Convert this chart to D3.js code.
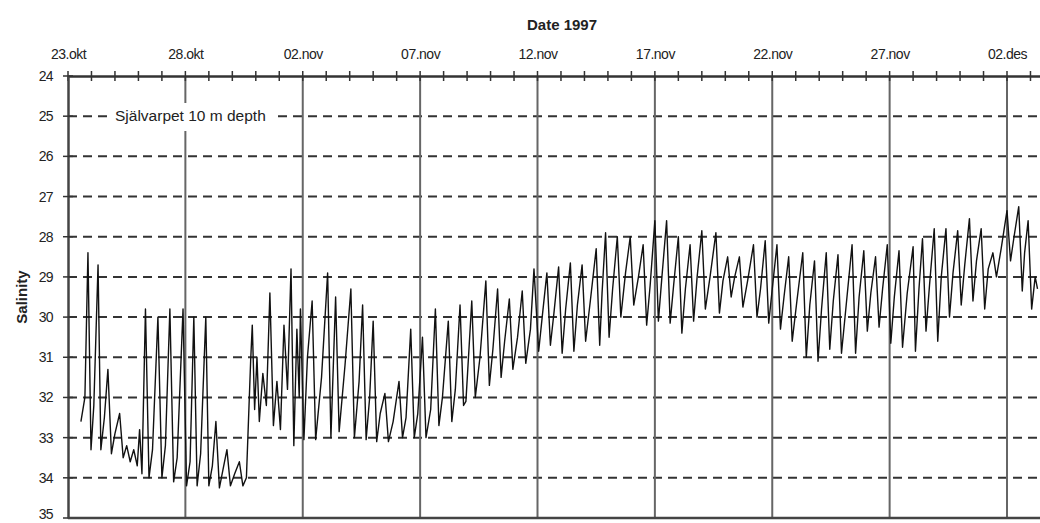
<!DOCTYPE html>
<html>
<head>
<meta charset="utf-8">
<script src="https://cdn.jsdelivr.net/npm/d3@7"></script>
<style>
  body { margin: 0; background: #fff; }
  text { font-family: "Liberation Sans", Arial, Helvetica, sans-serif; fill: #222; }
</style>
</head>
<body>
<div id="chart"></div>
<script>
// Salinity record, Självarpet 10 m depth, autumn 1997
// time as days after 23.okt 00:00
const sampleDay = [
  0.55, 0.72, 0.85, 0.98, 1.1, 1.28, 1.4, 1.55, 1.7, 1.85, 2.0, 2.2, 2.35, 2.5, 2.65, 2.8, 2.95, 3.05, 3.15, 3.3,
  3.45, 3.6, 3.83, 4.0, 4.15, 4.34, 4.5, 4.65, 4.9, 5.05, 5.2, 5.36, 5.5, 5.65, 5.87, 6.0, 6.15, 6.3, 6.45, 6.6,
  6.77, 6.92, 7.1, 7.3, 7.45, 7.6, 7.78, 7.85, 7.95, 8.05, 8.15, 8.3, 8.45, 8.6, 8.75, 8.9, 9.05, 9.2, 9.35, 9.5,
  9.62, 9.75, 9.85, 9.9, 10.05, 10.2, 10.4, 10.55, 10.8, 11.06, 11.2, 11.4, 11.55, 11.8, 12.05, 12.2, 12.4, 12.55, 12.7, 12.85,
  13.0, 13.15, 13.3, 13.5, 13.65, 13.85, 14.1, 14.25, 14.4, 14.6, 14.75, 14.9, 15.1, 15.25, 15.45, 15.65, 15.8, 15.95, 16.2, 16.35,
  16.5, 16.7, 16.85, 16.95, 17.2, 17.35, 17.55, 17.8, 17.95, 18.1, 18.3, 18.45, 18.6, 18.8, 18.95, 19.15, 19.35, 19.5, 19.7, 19.85,
  20.05, 20.2, 20.4, 20.55, 20.7, 20.9, 21.05, 21.2, 21.4, 21.55, 21.7, 21.9, 22.05, 22.25, 22.5, 22.65, 22.75, 22.9, 23.05, 23.2,
  23.4, 23.55, 23.75, 23.95, 24.1, 24.3, 24.5, 24.65, 24.8, 25.0, 25.15, 25.3, 25.5, 25.65, 25.8, 26.0, 26.15, 26.3, 26.5, 26.65,
  26.8, 27.0, 27.15, 27.35, 27.6, 27.75, 27.9, 28.1, 28.25, 28.4, 28.6, 28.75, 28.95, 29.2, 29.35, 29.5, 29.7, 29.85, 30.0, 30.2,
  30.35, 30.5, 30.7, 30.85, 31.05, 31.3, 31.45, 31.6, 31.8, 31.95, 32.1, 32.3, 32.45, 32.6, 32.8, 32.95, 33.15, 33.4, 33.55, 33.7,
  33.9, 34.05, 34.2, 34.4, 34.55, 34.7, 34.9, 35.05, 35.2, 35.4, 35.55, 35.75, 36.0, 36.1, 36.25, 36.4, 36.55, 36.7, 36.9, 37.05,
  37.2, 37.4, 37.55, 37.7, 37.9, 38.05, 38.2, 38.4, 38.55, 38.7, 38.9, 39.05, 39.2, 39.4, 39.55, 39.75, 40.0, 40.15, 40.3, 40.5,
  40.65, 40.75, 40.9, 41.05, 41.2, 41.3
];
const salinity = [
  32.6, 32.0, 28.4, 33.3, 32.2, 28.7, 33.3, 32.5, 31.3, 33.4, 32.9, 32.4, 33.5, 33.2, 33.6, 33.3, 33.7, 32.8, 33.9, 29.8,
  34.0, 33.3, 30.0, 34.0, 33.2, 29.8, 34.1, 33.5, 29.8, 34.2, 33.6, 30.0, 34.2, 33.4, 30.0, 34.2, 33.7, 32.6, 34.25, 33.8,
  33.3, 34.2, 33.9, 33.6, 34.2, 34.0, 31.1, 30.2, 32.3, 31.0, 32.6, 31.4, 32.2, 29.4, 32.7, 31.6, 32.8, 30.2, 31.8, 28.8,
  33.2, 30.3, 32.0, 29.8, 33.05, 31.0, 29.6, 33.05, 31.5, 28.9, 33.0, 29.5, 32.85, 31.2, 29.3, 33.0, 31.6, 29.7, 33.05, 32.0,
  30.1, 33.1, 32.4, 31.9, 33.1, 32.6, 31.6, 33.0, 32.5, 30.3, 33.0, 32.4, 30.5, 33.0, 32.3, 29.8, 32.7, 32.0, 30.1, 32.6,
  31.8, 29.7, 32.2, 32.1, 29.6, 32.0, 31.0, 29.1, 31.7, 30.8, 29.3, 31.5, 30.6, 29.55, 31.3, 30.5, 29.35, 31.15, 30.3, 28.8,
  30.85, 30.0, 28.9, 30.7, 29.9, 28.75, 30.9, 29.8, 28.65, 30.85, 29.7, 28.7, 30.6, 29.6, 28.3, 30.7, 29.4, 27.9, 30.5, 29.3,
  28.0, 30.0, 28.9, 28.0, 29.7, 29.0, 28.2, 30.2, 29.2, 27.6, 30.1, 29.0, 27.6, 30.15, 29.2, 28.0, 30.4, 29.3, 28.2, 30.1,
  29.0, 27.85, 29.8, 29.0, 27.9, 29.9, 29.1, 28.5, 29.5, 29.0, 28.5, 29.75, 29.1, 28.2, 30.0, 29.3, 28.1, 30.15, 29.3, 28.2,
  30.3, 29.5, 28.5, 30.6, 29.6, 28.4, 31.0, 29.7, 28.6, 31.1, 29.8, 28.4, 30.8, 29.6, 28.45, 30.9, 29.7, 28.2, 30.9, 29.5,
  28.35, 30.35, 29.4, 28.5, 30.25, 29.3, 28.2, 30.65, 29.5, 28.35, 30.75, 29.4, 28.25, 30.85, 29.3, 28.05, 30.35, 29.2, 27.8, 30.6,
  29.0, 27.8, 30.0, 28.9, 27.85, 29.7, 28.7, 27.55, 29.6, 28.6, 27.8, 29.8, 28.8, 28.4, 29.0, 28.3, 27.35, 28.6, 28.0, 27.25,
  29.35, 28.4, 27.6, 29.8, 29.0, 29.3
];

// axis labels
const tickLabels = ["23.okt", "28.okt", "02.nov", "07.nov", "12.nov", "17.nov", "22.nov", "27.nov", "02.des"];
const yTicks = [24, 25, 26, 27, 28, 29, 30, 31, 32, 33, 34, 35];

const startDate = new Date(1997, 9, 23);
const toDate = d => new Date(startDate.getTime() + d * 864e5);

const data = sampleDay.map((d, i) => ({ date: toDate(d), value: salinity[i] }));
const labelDates = tickLabels.map((t, i) => d3.timeDay.offset(startDate, i * 5));

const width = 1040;
const height = 523;

const svg = d3.select("#chart")
  .append("svg")
  .attr("width", width)
  .attr("height", height)
  .style("display", "block");

// scales (right end of the plot runs off the picture)
const x = d3.scaleTime()
  .domain([startDate, d3.timeDay.offset(startDate, 42)])
  .range([68, 68 + 42 * 23.475]);

const y = d3.scaleLinear()
  .domain([24, 35])
  .range([76, 518]);

const x0 = x.range()[0];

// horizontal dashed grid
svg.append("g")
  .selectAll("line")
  .data(yTicks.filter(v => v > 24 && v < 35))
  .join("line")
  .attr("x1", x0)
  .attr("x2", width)
  .attr("y1", d => y(d))
  .attr("y2", d => y(d))
  .attr("stroke", "#333")
  .attr("stroke-width", 2)
  .attr("stroke-dasharray", "9,6");

// vertical grid at the labelled dates
svg.append("g")
  .selectAll("line")
  .data(labelDates.slice(1))
  .join("line")
  .attr("x1", d => x(d))
  .attr("x2", d => x(d))
  .attr("y1", y(24))
  .attr("y2", y(35))
  .attr("stroke", "#666")
  .attr("stroke-width", 2);

// salinity line
const line = d3.line()
  .x(d => x(d.date))
  .y(d => y(d.value));

svg.append("path")
  .datum(data)
  .attr("fill", "none")
  .attr("stroke", "#111")
  .attr("stroke-width", 1.4)
  .attr("stroke-linejoin", "round")
  .attr("d", line);

// top axis with day ticks
const dayTicks = d3.timeDay.range(startDate, d3.timeDay.offset(startDate, 42));
svg.append("g")
  .selectAll("line")
  .data(dayTicks)
  .join("line")
  .attr("x1", d => x(d))
  .attr("x2", d => x(d))
  .attr("y1", y(24) - 5)
  .attr("y2", y(24) + 5)
  .attr("stroke", "#333")
  .attr("stroke-width", 1.5);

const topAxis = svg.append("g")
  .attr("transform", `translate(0,${y(24)})`)
  .call(d3.axisTop(x)
    .tickValues(labelDates)
    .tickFormat((d, i) => tickLabels[i])
    .tickSize(0)
    .tickPadding(17));
topAxis.select(".domain").attr("stroke", "#333").attr("stroke-width", 2.5);
topAxis.selectAll("text")
  .style("font-size", "14px")
  .style("letter-spacing", "-0.5px")
  .attr("fill", "#222");

// left axis
const leftAxis = svg.append("g")
  .attr("transform", `translate(${x0},0)`)
  .call(d3.axisLeft(y)
    .tickValues(yTicks)
    .tickFormat(d3.format("d"))
    .tickSize(0)
    .tickPadding(15));
leftAxis.select(".domain").attr("stroke", "#444").attr("stroke-width", 2.5);
leftAxis.selectAll("text")
  .style("font-size", "14px")
  .style("letter-spacing", "-0.6px")
  .attr("fill", "#222");
// lowest label sits at the picture's bottom edge; lift it just inside
leftAxis.selectAll(".tick")
  .filter(d => d === 35)
  .select("text")
  .attr("dy", "0.05em");

svg.append("g")
  .selectAll("line")
  .data(yTicks)
  .join("line")
  .attr("x1", x0 - 5)
  .attr("x2", x0 + 5)
  .attr("y1", d => y(d))
  .attr("y2", d => y(d))
  .attr("stroke", "#333")
  .attr("stroke-width", 1.5);

// bottom frame
svg.append("line")
  .attr("x1", x0)
  .attr("x2", width)
  .attr("y1", y(35))
  .attr("y2", y(35))
  .attr("stroke", "#444")
  .attr("stroke-width", 2.5);

// legend box
svg.append("rect")
  .attr("x", 110)
  .attr("y", 103)
  .attr("width", 166)
  .attr("height", 28)
  .attr("fill", "#fff");

svg.append("text")
  .attr("x", 115)
  .attr("y", y(25) + 5)
  .style("font-size", "15.5px")
  .text("Självarpet 10 m depth");

// titles
svg.append("text")
  .attr("x", 562)
  .attr("y", 30)
  .attr("text-anchor", "middle")
  .style("font-size", "15px")
  .style("font-weight", "bold")
  .text("Date 1997");

svg.append("text")
  .attr("transform", `translate(27,${(y(24) + y(35)) / 2}) rotate(-90)`)
  .attr("text-anchor", "middle")
  .style("font-size", "15px")
  .style("font-weight", "bold")
  .text("Salinity");
</script>
</body>
</html>
